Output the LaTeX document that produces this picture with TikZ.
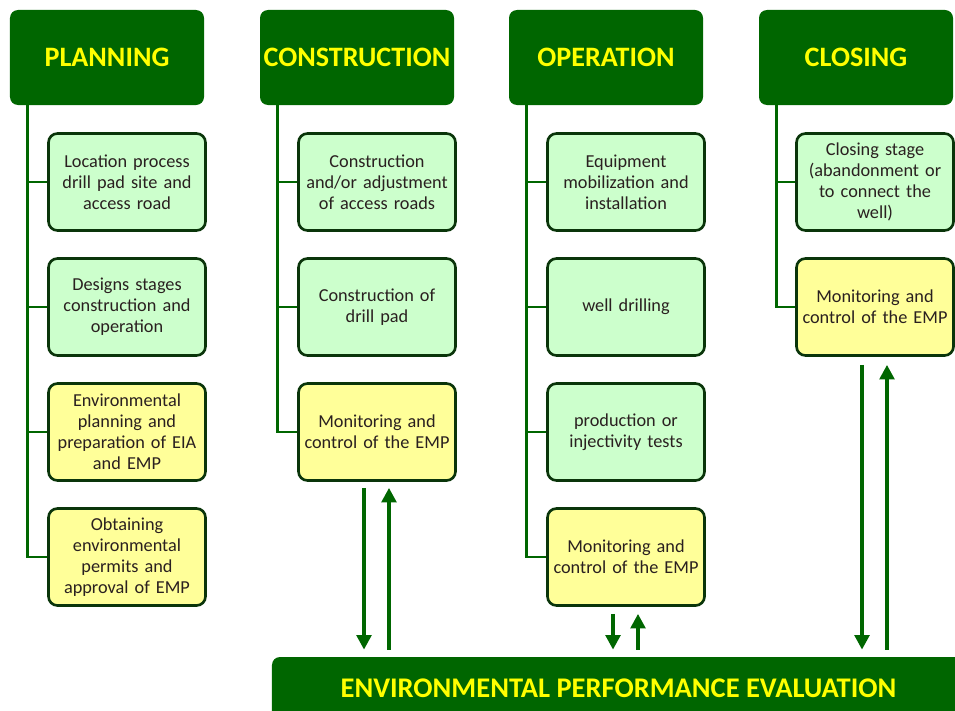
\documentclass[tikz,border=0pt]{standalone}
\usepackage{fontspec}
\setmainfont{Carlito}
\usetikzlibrary{arrows.meta,positioning,calc}
\definecolor{mDark}{HTML}{006600}
\definecolor{mEdge}{HTML}{0A350A}
\definecolor{mGreen}{HTML}{CCFFCC}
\definecolor{mYellow}{HTML}{FFFF99}
\definecolor{mLabel}{HTML}{FFFF00}
\definecolor{mInk}{HTML}{2A2020}

\begin{document}
\begin{tikzpicture}[x=0.2mm,y=-0.2mm,>={Triangle[length=2.9mm,width=2.9mm]},
    phase/.style={fill=mDark,text=mLabel,rounded corners=1.6mm,inner xsep=0pt,
      minimum width=38.8mm,minimum height=19mm,font=\fontsize{16}{19}\selectfont\bfseries},
    task/.style={draw=mEdge,line width=1.5pt,rounded corners=1.8mm,inner xsep=0.5mm,
      minimum width=31.4mm,minimum height=19.4mm,text width=30.3mm,align=center,text=mInk,
      font=\fontsize{10.4}{12}\selectfont},
    todo/.style={task,fill=mGreen},
    emp/.style={task,fill=mYellow},
    trunk/.style={mDark,line width=1.7pt},
    flow/.style={mDark,line width=2.3pt}]
  \useasboundingbox (0,0) rectangle (955,711);

  % phase headers
  \node[phase] (plan) at (107,57.5) {PLANNING};
  \node[phase] (cons) at (357,57.5) {CONSTRUCTION};
  \node[phase] (oper) at (606,57.5) {OPERATION};
  \node[phase] (clos) at (856,57.5) {CLOSING};

  % planning
  \node[todo] (p1) at (127,182) {Location process\\drill pad site and\\access road};
  \node[todo] (p2) at (127,307) {Designs stages\\construction and\\operation};
  \node[emp]  (p3) at (127,432) {Environmental\\planning and\\preparation of EIA\\and EMP};
  \node[emp]  (p4) at (127,557) {Obtaining\\environmental\\permits and\\approval of EMP};

  % construction
  \node[todo] (c1) at (377,182) {Construction\\and/or adjustment\\of access roads};
  \node[todo] (c2) at (377,307) {Construction of\\drill pad};
  \node[emp]  (c3) at (377,432) {Monitoring and\\control of the EMP};

  % operation
  \node[todo] (o1) at (626,182) {Equipment\\mobilization and\\installation};
  \node[todo] (o2) at (626,307) {well drilling};
  \node[todo] (o3) at (626,432) {production or\\injectivity tests};
  \node[emp]  (o4) at (626,557) {Monitoring and\\control of the EMP};

  % closing
  \node[todo] (k1) at (875,182) {Closing stage\\(abandonment or\\to connect the\\well)};
  \node[emp]  (k2) at (875,307) {Monitoring and\\control of the EMP};

  \node[fill=mDark,text=mLabel,rounded corners=1.6mm,minimum width=138.6mm,minimum height=12.4mm,
    font=\fontsize{16.2}{19}\selectfont\bfseries] (eval) at (618.5,688)
    {ENVIRONMENTAL PERFORMANCE EVALUATION};

  % trunks and branches
  \coordinate (tp) at ($(plan.south west)+(18,0)$);
  \coordinate (tc) at ($(cons.south west)+(18,0)$);
  \coordinate (to) at ($(oper.south west)+(18,0)$);
  \coordinate (tk) at ($(clos.south west)+(18,0)$);
  \foreach \n in {p1,p2,p3,p4} \draw[trunk] (tp) |- (\n.west);
  \foreach \n in {c1,c2,c3} \draw[trunk] (tc) |- (\n.west);
  \foreach \n in {o1,o2,o3,o4} \draw[trunk] (to) |- (\n.west);
  \foreach \n in {k1,k2} \draw[trunk] (tk) |- (\n.west);

  % feedback to the evaluation
  \foreach \m/\s in {c3/1.2mm,o4/1.4mm,k2/1.6mm} {
    \coordinate (dn) at ($(\m.south)+(-13,0)$);
    \coordinate (up) at ($(\m.south)+(12,0)$);
    \draw[flow,->,shorten <=\s,shorten >=1.4mm] (dn) -- (dn |- eval.north);
    \draw[flow,->,shorten <=1.4mm,shorten >=\s] (up |- eval.north) -- (up);
  }
\end{tikzpicture}
\end{document}
